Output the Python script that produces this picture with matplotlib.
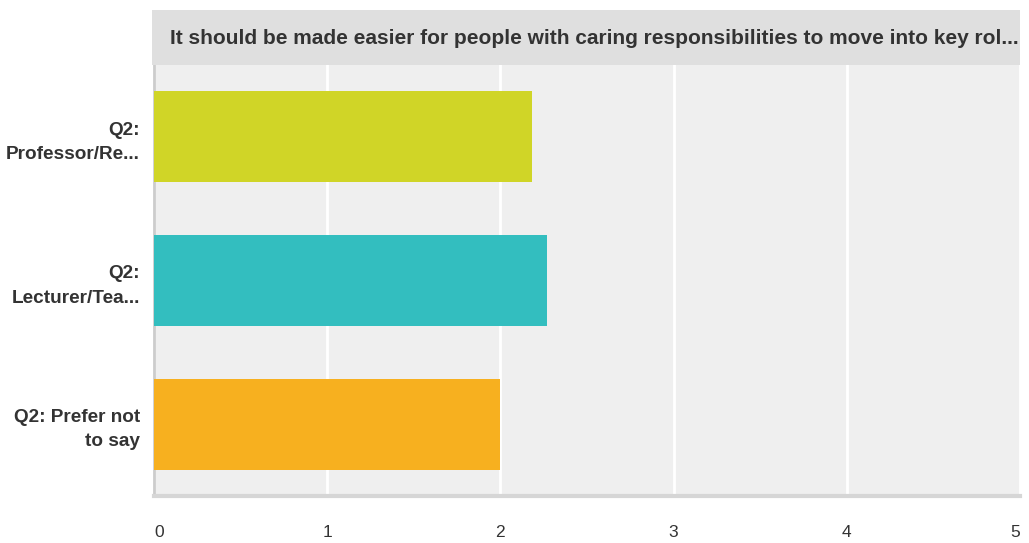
import matplotlib.pyplot as plt
from matplotlib.patches import Rectangle

# datos
categories = ["Q2:\nProfessor/Re...", "Q2:\nLecturer/Tea...", "Q2: Prefer not\nto say"]
values = [2.18, 2.27, 2.00]
colors = ["#D0D527", "#33BEBF", "#F7B01F"]
title = "It should be made easier for people with caring responsibilities to move into key rol..."

plt.rcParams['font.family'] = ['Liberation Sans', 'DejaVu Sans']

fig = plt.figure(figsize=(10.29, 5.43), dpi=100)
ax = fig.add_axes([154 / 1029, 47 / 543, 866 / 1029, 431 / 543])
ax.set_facecolor("#EFEFEF")

ypos = list(range(len(categories)))
ax.barh(ypos, values, height=0.635, color=colors, zorder=3)
ax.set_ylim(len(categories) - 0.5, -0.5)
ax.set_xlim(0, 5)
ax.set_xticks(range(6))
ax.set_yticks(ypos)
ax.set_yticklabels(categories, fontweight='bold', fontsize=13.7, color="#333333", linespacing=1.55)
ax.tick_params(axis='y', length=0, pad=10)
ax.tick_params(axis='x', length=0, pad=21, labelsize=12.5, labelcolor="#333333")
for lbl in ax.get_yticklabels():
    lbl.set_horizontalalignment('right')
xlbls = ax.get_xticklabels()
xlbls[0].set_horizontalalignment('left')
xlbls[-1].set_horizontalalignment('right')
ax.grid(axis='x', color='white', linewidth=2, zorder=1)
for s in ['top', 'right']:
    ax.spines[s].set_visible(False)
ax.spines['left'].set_color("#CCCCCC")
ax.spines['left'].set_linewidth(2)
ax.spines['bottom'].set_color("#D6D6D6")
ax.spines['bottom'].set_linewidth(3)

# banda del título
fig.patches.append(Rectangle((152 / 1029, 478 / 543), 868 / 1029, 55 / 543,
                             transform=fig.transFigure, facecolor="#DFDFDF",
                             edgecolor='none', zorder=0))
fig.text(170 / 1029, 505 / 543, title, fontsize=15, fontweight='bold',
         color="#333333", va='center', ha='left')

fig.savefig("out.png", dpi=100)
